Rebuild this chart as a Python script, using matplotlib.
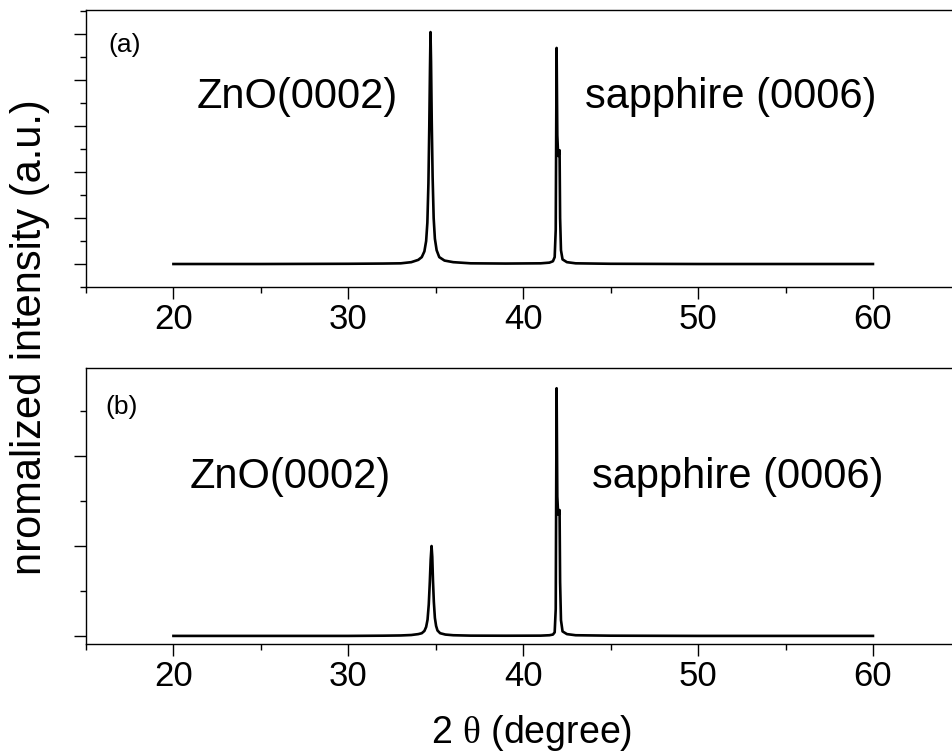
import matplotlib
matplotlib.use("Agg")
import matplotlib.pyplot as plt
from matplotlib.ticker import MultipleLocator, NullFormatter

plt.rcParams['font.family'] = ['Liberation Sans', 'DejaVu Sans']
plt.rcParams['mathtext.fontset'] = 'custom'
plt.rcParams['mathtext.rm'] = 'Liberation Serif'

# Panel (a) data: 2theta (deg) vs normalized intensity
two_theta_a = [20, 25, 30, 32.0, 33.0, 33.6, 34.0, 34.2, 34.35, 34.45, 34.52, 34.58, 34.63,
               34.67, 34.70, 34.73, 34.77, 34.82, 34.88, 34.95, 35.05, 35.2, 35.5, 36.0,
               37.0, 39.0, 41.0, 41.5, 41.7, 41.8, 41.86, 41.91, 41.95, 42.0, 42.05, 42.08,
               42.11, 42.16, 42.25, 42.5, 43.0, 45, 50, 55, 60]
intensity_a = [0.0, 0.0, 0.001, 0.002, 0.003, 0.008, 0.018, 0.03, 0.055, 0.1, 0.18, 0.35, 0.6,
               0.85, 1.009, 0.88, 0.62, 0.38, 0.2, 0.11, 0.06, 0.03, 0.015, 0.008,
               0.003, 0.002, 0.003, 0.006, 0.012, 0.03, 0.15, 0.94, 0.56, 0.47, 0.48, 0.495,
               0.2, 0.06, 0.02, 0.008, 0.003, 0.001, 0.0, 0.0, 0.0]

# Panel (b) data
two_theta_b = [20, 25, 30, 32.0, 33.0, 33.6, 34.0, 34.2, 34.35, 34.45, 34.53, 34.6, 34.66,
               34.71, 34.76, 34.80, 34.84, 34.89, 34.95, 35.02, 35.1, 35.25, 35.55, 36.0,
               37.0, 39.0, 41.0, 41.5, 41.7, 41.8, 41.86, 41.91, 41.95, 42.0, 42.05, 42.08,
               42.11, 42.16, 42.25, 42.5, 43.0, 45, 50, 55, 60]
intensity_b = [0.0, 0.0, 0.0, 0.0005, 0.001, 0.002, 0.004, 0.006, 0.011, 0.02, 0.036, 0.07, 0.12,
               0.17, 0.2, 0.176, 0.124, 0.076, 0.04, 0.022, 0.012, 0.006, 0.003, 0.0015,
               0.0006, 0.0004, 0.0006, 0.0015, 0.003, 0.008, 0.06, 0.551, 0.31, 0.27, 0.272, 0.28,
               0.12, 0.035, 0.01, 0.004, 0.0015, 0.0005, 0.0, 0.0, 0.0]

panel_labels = ['(a)', '(b)']
peak_labels = ['ZnO(0002)', 'sapphire (0006)']
x_ticks = [20, 30, 40, 50, 60]

fig = plt.figure(figsize=(9.52, 7.56), dpi=100)
W, H = 952, 756

def make_ax(top_px, bottom_px):
    left, right = 86, 960.4
    return fig.add_axes([left / W, 1 - bottom_px / H, (right - left) / W, (bottom_px - top_px) / H])

ax1 = make_ax(10, 287)
ax2 = make_ax(368, 644)

for ax, x, y in [(ax1, two_theta_a, intensity_a), (ax2, two_theta_b, intensity_b)]:
    ax.plot(x, y, color='black', lw=1.9, solid_joinstyle='round')
    ax.set_xlim(15, 65)
    ax.set_xticks(x_ticks)
    ax.xaxis.set_minor_locator(MultipleLocator(5))
    ax.yaxis.set_major_locator(MultipleLocator(0.2))
    ax.yaxis.set_minor_locator(MultipleLocator(0.1))
    ax.yaxis.set_major_formatter(NullFormatter())
    ax.tick_params(which='major', direction='out', length=8.6, width=1, labelsize=25, pad=3)
    ax.tick_params(which='minor', direction='out', length=4.3, width=1)
    ax.tick_params(top=False, right=False)
    for s in ax.spines.values():
        s.set_linewidth(1)
        s.set_color('black')

ax1.set_ylim(-0.1, 1.105)
ax2.set_ylim(-0.018, 0.596)

ax1.text(108 / W, 1 - 45 / H, panel_labels[0], transform=fig.transFigure, fontsize=19, ha='left', va='center')
ax2.text(105 / W, 1 - 407 / H, panel_labels[1], transform=fig.transFigure, fontsize=19, ha='left', va='center')

ax1.text(197 / W, 1 - 97 / H, peak_labels[0], transform=fig.transFigure, fontsize=30, ha='left', va='center')
ax1.text(585 / W, 1 - 97 / H, peak_labels[1], transform=fig.transFigure, fontsize=30, ha='left', va='center')
ax2.text(190 / W, 1 - 477 / H, peak_labels[0], transform=fig.transFigure, fontsize=30, ha='left', va='center')
ax2.text(592 / W, 1 - 477 / H, peak_labels[1], transform=fig.transFigure, fontsize=30, ha='left', va='center')

fig.text(30 / W, 1 - 337 / H, 'nromalized intensity (a.u.)', rotation=90, fontsize=30, ha='center', va='center')
fig.text(532 / W, 1 - 733 / H, r'2 $\mathrm{\theta}$ (degree)', fontsize=27, ha='center', va='center')

fig.savefig('out.png', dpi=100)
